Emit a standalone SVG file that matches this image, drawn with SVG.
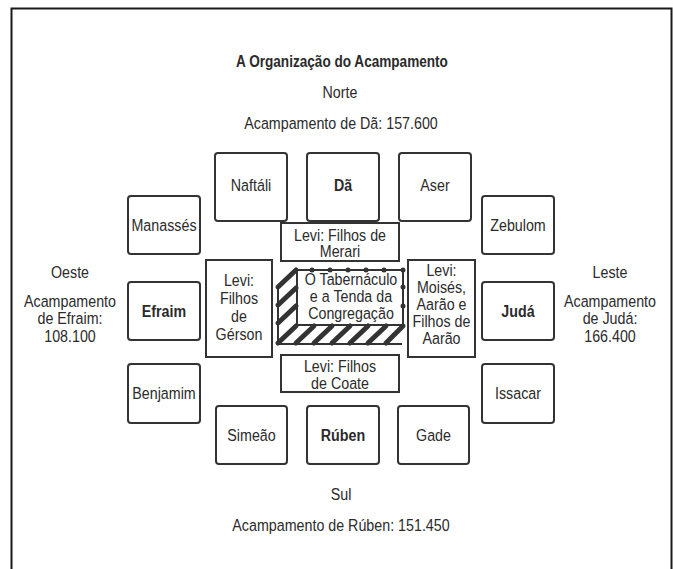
<svg xmlns="http://www.w3.org/2000/svg" width="673" height="569" viewBox="0 0 673 569">
<style>
text{font-family:"Liberation Sans",Arial,sans-serif;font-size:17px;fill:#2b2b2b;text-anchor:middle}
.b{font-weight:bold}
.tribe{fill:#fff;stroke:#333;stroke-width:2}
.levi{fill:#fff;stroke:#333;stroke-width:2}
.thin{fill:none;stroke:#333;stroke-width:2}
.bar{fill:none;stroke:#333;stroke-width:5;stroke-linecap:round}
.dot{fill:#333}
</style>
<rect x="11.5" y="8.5" width="660" height="620" fill="#fff" stroke="#1a1a1a" stroke-width="2"/>
<g id="labels">
<text class="b" transform="translate(342 67) scale(0.8 1)">A Organização do Acampamento</text>
<text transform="translate(340 98) scale(0.84 1)">Norte</text>
<text transform="translate(341 129) scale(0.84 1)">Acampamento de Dã: 157.600</text>
<text transform="translate(341 500) scale(0.84 1)">Sul</text>
<text transform="translate(341 531) scale(0.84 1)">Acampamento de Rúben: 151.450</text>
<text transform="translate(70 278) scale(0.84 1)">Oeste<tspan x="0" y="29">Acampamento</tspan><tspan x="0" y="46.5">de Efraim:</tspan><tspan x="0" y="64">108.100</tspan></text>
<text transform="translate(610 278) scale(0.84 1)">Leste<tspan x="0" y="29">Acampamento</tspan><tspan x="0" y="46.5">de Judá:</tspan><tspan x="0" y="64">166.400</tspan></text>
</g>
<g id="connectors"></g>
<g id="naftali"><rect class="tribe" x="215" y="153" width="72" height="68" rx="3"/><text transform="translate(251 191) scale(0.84 1)">Naftáli</text></g>
<g id="da"><rect class="tribe" x="307" y="153" width="72" height="68" rx="3"/><text class="b" transform="translate(343 191) scale(0.84 1)">Dã</text></g>
<g id="aser"><rect class="tribe" x="399" y="153" width="72" height="68" rx="3"/><text transform="translate(435 191) scale(0.84 1)">Aser</text></g>
<g id="manasses"><rect class="tribe" x="128" y="196" width="72" height="58" rx="3"/><text transform="translate(164 231) scale(0.84 1)">Manassés</text></g>
<g id="efraim"><rect class="tribe" x="128" y="282" width="72" height="58" rx="3"/><text class="b" transform="translate(164 317) scale(0.84 1)">Efraim</text></g>
<g id="benjamim"><rect class="tribe" x="128" y="364" width="72" height="59" rx="3"/><text transform="translate(164 399) scale(0.84 1)">Benjamim</text></g>
<g id="zebulom"><rect class="tribe" x="482" y="196" width="72" height="58" rx="3"/><text transform="translate(518 231) scale(0.84 1)">Zebulom</text></g>
<g id="juda"><rect class="tribe" x="482" y="282" width="72" height="58" rx="3"/><text class="b" transform="translate(518 317) scale(0.84 1)">Judá</text></g>
<g id="issacar"><rect class="tribe" x="482" y="364" width="72" height="59" rx="3"/><text transform="translate(518 399) scale(0.84 1)">Issacar</text></g>
<g id="simeao"><rect class="tribe" x="216" y="406" width="71" height="58" rx="3"/><text transform="translate(251.5 441) scale(0.84 1)">Simeão</text></g>
<g id="ruben"><rect class="tribe" x="307" y="406" width="72" height="58" rx="3"/><text class="b" transform="translate(343 441) scale(0.84 1)">Rúben</text></g>
<g id="gade"><rect class="tribe" x="398" y="406" width="71" height="58" rx="3"/><text transform="translate(433.5 441) scale(0.84 1)">Gade</text></g>
<g id="merari"><rect class="levi" x="281" y="223" width="118" height="38"/><text transform="translate(340 240.5) scale(0.84 1)">Levi: Filhos de<tspan x="0" y="17">Merari</tspan></text></g>
<g id="gerson"><rect class="levi" x="206" y="260" width="66" height="97"/><text transform="translate(239 286) scale(0.84 1)">Levi:<tspan x="0" y="18">Filhos</tspan><tspan x="0" y="36">de</tspan><tspan x="0" y="54">Gérson</tspan></text></g>
<g id="moises"><rect class="levi" x="408" y="260" width="67" height="97"/><text transform="translate(441.5 276) scale(0.84 1)">Levi:<tspan x="0" y="17">Moisés,</tspan><tspan x="0" y="34">Aarão e</tspan><tspan x="0" y="51">Filhos de</tspan><tspan x="0" y="68">Aarão</tspan></text></g>
<g id="coate"><rect class="levi" x="281" y="355" width="118" height="37"/><text transform="translate(340 372) scale(0.84 1)">Levi: Filhos<tspan x="0" y="17">de Coate</tspan></text></g>
<g id="tabernaculo">
<path class="thin" d="M278 287 V344 H402 M297 270 H403 V325 H297 Z"/>
<g class="bar">
<line x1="278" y1="287" x2="296" y2="270"/>
<line x1="278" y1="305" x2="296" y2="288"/>
<line x1="278" y1="323" x2="296" y2="306"/>
<line x1="278" y1="343" x2="296" y2="326"/>
<line x1="296" y1="343" x2="314" y2="326"/>
<line x1="314" y1="343" x2="332" y2="326"/>
<line x1="332" y1="343" x2="350" y2="326"/>
<line x1="350" y1="343" x2="368" y2="326"/>
<line x1="368" y1="343" x2="386" y2="326"/>
<line x1="386" y1="343" x2="403" y2="326"/>
</g>
<g class="dot">
<circle cx="312" cy="270" r="2.5"/><circle cx="330" cy="270" r="2.5"/><circle cx="348" cy="270" r="2.5"/><circle cx="366" cy="270" r="2.5"/><circle cx="384" cy="270" r="2.5"/><circle cx="403" cy="270" r="2.5"/>
<circle cx="403" cy="287" r="2.5"/><circle cx="403" cy="306" r="2.5"/>
</g>
<text transform="translate(351 285) scale(0.84 1)">O Tabernáculo<tspan x="0" y="17">e a Tenda da</tspan><tspan x="0" y="34">Congregação</tspan></text>
</g>
</svg>
